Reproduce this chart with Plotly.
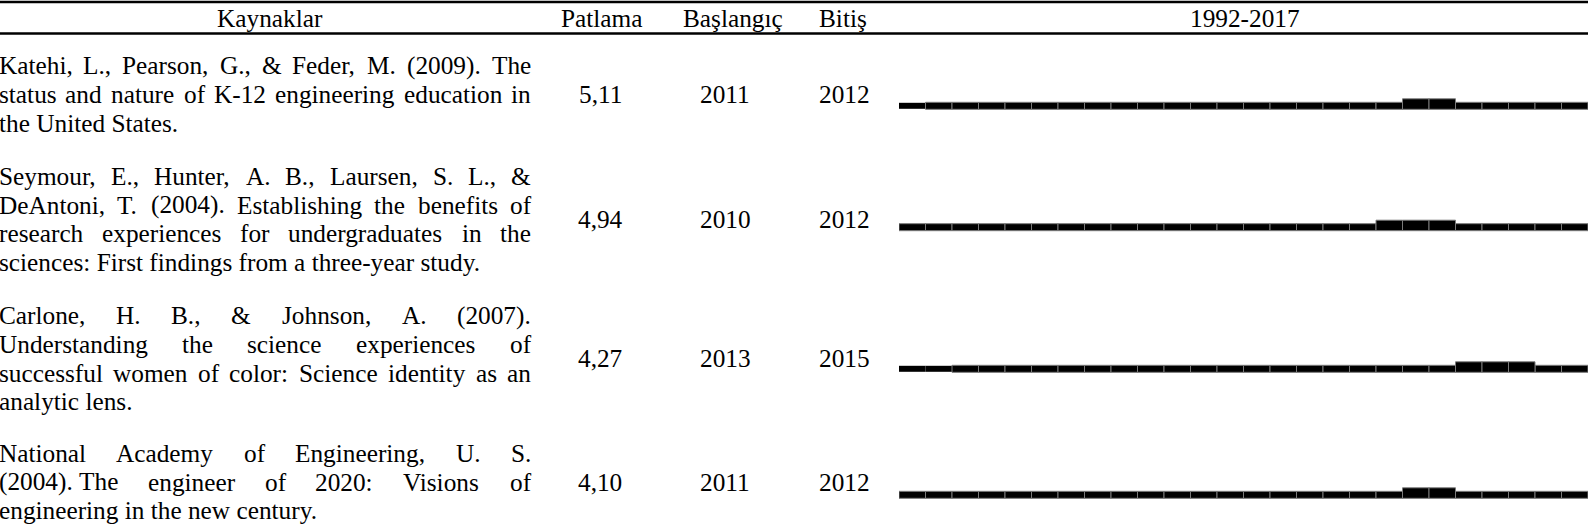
import plotly.graph_objects as go

# ---- table content -------------------------------------------------------
headers = ["Kaynaklar", "Patlama", "Başlangıç", "Bitiş", "1992-2017"]

# each reference is kept as its printed lines (last line is left aligned,
# the others are justified across the column)
references = [
    ["Katehi, L., Pearson, G., & Feder, M. (2009). The",
     "status and nature of K-12 engineering education in",
     "the United States."],
    ["Seymour, E., Hunter, A. B., Laursen, S. L., &",
     "DeAntoni, T. (2004). Establishing the benefits of",
     "research experiences for undergraduates in the",
     "sciences: First findings from a three-year study."],
    ["Carlone, H. B., & Johnson, A. (2007).",
     "Understanding the science experiences of",
     "successful women of color: Science identity as an",
     "analytic lens."],
    ["National Academy of Engineering, U. S.",
     "(2004).\u00a0The engineer of 2020: Visions of",
     "engineering in the new century."],
]
strength = ["5,11", "4,94", "4,27", "4,10"]
begin = [2011, 2010, 2013, 2011]
end = [2012, 2012, 2015, 2012]
first_year, last_year = 1992, 2017
lead_years = [1, 0, 2, 0]          # leading segments drawn without outline

# ---- layout constants (pixels) ------------------------------------------
W, H = 1588, 531
FONT = "Liberation Serif"
FS = 25.3
LINE = 28.6
COL_L, COL_R = -1.5, 531.0
row_first_base = [74.0, 184.5, 324.0, 461.5]
bar_bottom = [109.3, 230.7, 372.3, 498.3]
header_base = 26.5
header_x = [270, 602, 733, 843, 1245]
value_x = [600, 725, 844]
bar_x0 = 899
BASE_SHIFT = 0.3375 * FS            # baseline -> text box centre

# Times metrics (1/1000 em) used for justifying the reference lines
widths = {" ": 250, "\u00a0": 250, "&": 778, "(": 333, ")": 333, ",": 250,
          "-": 333, ".": 250, ":": 278, ";": 278}
widths.update({d: 500 for d in "0123456789"})
widths.update(dict(zip("ABCDEFGHIJKLMNOPQRSTUVWXYZ",
                       [722, 667, 667, 722, 611, 556, 722, 722, 333, 389, 722,
                        611, 889, 722, 722, 556, 722, 667, 556, 611, 722, 722,
                        944, 722, 722, 611])))
widths.update(dict(zip("abcdefghijklmnopqrstuvwxyz",
                       [444, 500, 444, 500, 444, 333, 500, 500, 278, 278, 500,
                        278, 778, 500, 500, 500, 500, 333, 389, 278, 500, 500,
                        722, 500, 500, 444])))


def text_w(s):
    return sum(widths.get(c, 500) for c in s) * FS / 1000.0


def px(x):
    return x / W


annotations = []


def put(text, x, base, anchor="left"):
    annotations.append(dict(
        text=text, x=px(x), y=base - BASE_SHIFT, xref="paper", yref="y",
        xanchor=anchor, yanchor="middle", showarrow=False,
        borderpad=0, borderwidth=0,
        font=dict(family=FONT, size=FS, color="black")))


# header row
for label, x in zip(headers, header_x):
    put(label, x, header_base, "center")

# reference text, justified
for r, lines in enumerate(references):
    for i, line in enumerate(lines):
        base = row_first_base[r] + i * LINE
        if i == len(lines) - 1:
            put(line, COL_L, base)
            continue
        words = line.split(" ")
        total = sum(text_w(w) for w in words)
        gap = (COL_R - COL_L - total) / (len(words) - 1)
        x = COL_L
        for w in words:
            put(w, x, base)
            x += text_w(w) + gap

# value columns, centred on the middle of each reference block
for r, lines in enumerate(references):
    mid = row_first_base[r] + (len(lines) - 1) * LINE / 2.0
    put(strength[r], value_x[0], mid, "center")
    put(str(begin[r]), value_x[1], mid, "center")
    put(str(end[r]), value_x[2], mid, "center")

# ---- burst strips -------------------------------------------------------
NORMAL_H, BURST_H, LEAD_H = 7.0, 10.5, 6.0
groups = {"lead": ([], [], []), "normal": ([], [], []), "burst": ([], [], [])}
for r in range(len(references)):
    for k, yr in enumerate(range(first_year, last_year + 1)):
        if k < lead_years[r]:
            key, h = "lead", LEAD_H
        elif begin[r] <= yr <= end[r]:
            key, h = "burst", BURST_H
        else:
            key, h = "normal", NORMAL_H
        xs, hs, bs = groups[key]
        xs.append(yr + 0.5)
        hs.append(h)
        bs.append(bar_bottom[r] - h - (0.5 if key == "lead" else 0))

fig = go.Figure()
for key, (xs, hs, bs) in groups.items():
    fig.add_trace(go.Bar(
        x=xs, y=hs, base=bs, width=1.0,
        marker=dict(color="black",
                    line=dict(color="#7a7a7a", width=0 if key == "lead" else 1)),
        hoverinfo="skip", showlegend=False))

# table rules
shapes = [
    dict(type="line", xref="paper", yref="y", x0=0, x1=1, y0=2, y1=2,
         line=dict(color="black", width=2.5)),
    dict(type="line", xref="paper", yref="y", x0=0, x1=1, y0=33.5, y1=33.5,
         line=dict(color="black", width=2.5)),
]

fig.update_layout(
    width=W, height=H, autosize=False,
    margin=dict(l=0, r=0, t=0, b=0),
    paper_bgcolor="white", plot_bgcolor="white",
    barmode="overlay",
    xaxis=dict(domain=[bar_x0 / W, 1], range=[first_year, last_year + 1],
               visible=False, fixedrange=True),
    yaxis=dict(domain=[0, 1], range=[H, 0], visible=False, fixedrange=True),
    annotations=annotations, shapes=shapes,
)

fig.write_html("out.html", config={"displayModeBar": False})
